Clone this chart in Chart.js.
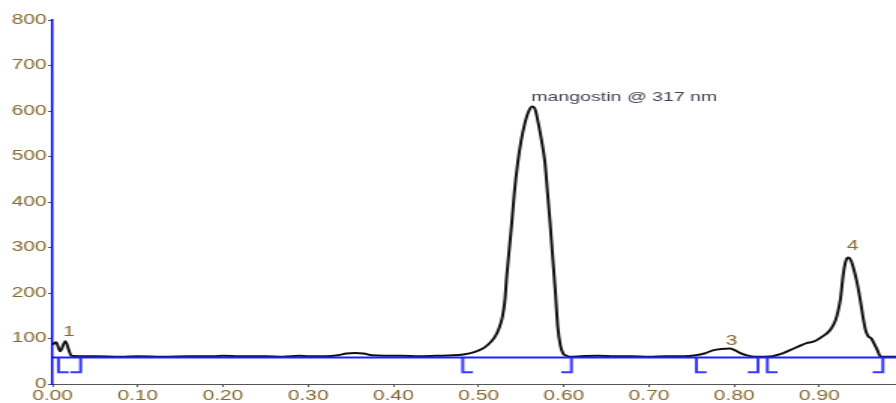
<!DOCTYPE html>
<html>
<head>
<meta charset="utf-8">
<script src="https://cdn.jsdelivr.net/npm/chart.js@4/dist/chart.umd.min.js"></script>
<style>
  html, body { margin: 0; padding: 0; background: #fff; overflow: hidden; }
  #chart { display: block; width: 597px; height: 403px; transform: scaleX(1.50084); transform-origin: 0 0; }
</style>
</head>
<body>
<canvas id="chart" width="597" height="403"></canvas>
<script>
// retention time (min) and absorbance
var timeVals = [0.000, 0.004, 0.009, 0.015, 0.019, 0.022, 0.030, 0.050, 0.080, 0.100,
  0.130, 0.160, 0.190, 0.200, 0.220, 0.250, 0.270, 0.290, 0.300, 0.320,
  0.335, 0.345, 0.355, 0.365, 0.375, 0.390, 0.410, 0.430, 0.450, 0.470,
  0.482, 0.495, 0.505, 0.512, 0.519, 0.524, 0.528, 0.531, 0.533, 0.536,
  0.539, 0.542, 0.546, 0.550, 0.5545, 0.559, 0.563, 0.5665, 0.5697, 0.574,
  0.578, 0.581, 0.584, 0.587, 0.590, 0.593, 0.596, 0.599, 0.603, 0.607,
  0.620, 0.640, 0.660, 0.680, 0.700, 0.720, 0.740, 0.755, 0.765, 0.775,
  0.785, 0.795, 0.800, 0.806, 0.815, 0.825, 0.835, 0.845, 0.855, 0.865,
  0.875, 0.885, 0.893, 0.900, 0.908, 0.914, 0.919, 0.922, 0.925, 0.928,
  0.931, 0.934, 0.937, 0.940, 0.944, 0.948, 0.951, 0.954, 0.957, 0.961,
  0.964, 0.968, 0.971, 0.975, 0.990];
var signal = [86, 92, 72, 94, 75, 62, 61, 61, 60, 61,
  60, 61, 61, 62, 61, 61, 60, 62, 61, 61,
  63, 67, 68, 67, 63, 62, 62, 61, 62, 63,
  65, 70, 78, 88, 103, 122, 147, 185, 235, 295,
  354, 420, 486, 535, 574, 600, 610, 603, 577, 535,
  486, 420, 354, 280, 207, 125, 85, 68, 62, 60,
  61, 62, 61, 61, 60, 61, 61, 63, 67, 74,
  77, 78, 75, 69, 63, 60, 60, 61, 66, 74,
  82, 90, 93, 100, 110, 122, 140, 160, 190, 240,
  270, 278, 272, 255, 225, 185, 150, 120, 106, 100,
  90, 75, 62, 60, 60];

var baselineLevel = 58;
var bracketBottom = 26;
var peakStart = [0.007, 0.4815, 0.7557, 0.839];
var peakEnd = [0.033, 0.609, 0.828, 0.9746];

var peakLabels = ["1", "mangostin @ 317 nm", "3", "4"];
var peakLabelX = [0.019, 0.562, 0.797, 0.939];
var peakLabelY = [115, 630, 95, 304];

var xTicks = [0, 0.1, 0.2, 0.3, 0.4, 0.5, 0.6, 0.7, 0.8, 0.9];
var xMax = 0.99;
var yMax = 800;

var labelColor = "#86682e";

var tracePts = timeVals.map(function(t, i) { return {x: t, y: signal[i]}; });

// integration marks: "[" at start and "]" at end of each peak
var bracketPts = [];
for (var i = 0; i < peakStart.length; i++) {
  var foot = Math.min(0.012, (peakEnd[i] - peakStart[i]) / 2);
  bracketPts.push({x: peakStart[i], y: baselineLevel});
  bracketPts.push({x: peakStart[i], y: bracketBottom});
  bracketPts.push({x: peakStart[i] + foot, y: bracketBottom});
  bracketPts.push({x: peakStart[i] + foot, y: null});
  bracketPts.push({x: peakEnd[i] - foot, y: bracketBottom});
  bracketPts.push({x: peakEnd[i], y: bracketBottom});
  bracketPts.push({x: peakEnd[i], y: baselineLevel});
  bracketPts.push({x: peakEnd[i], y: null});
}

var peakText = {
  id: 'peakText',
  afterDatasetsDraw: function(chart) {
    var ctx = chart.ctx;
    var sx = chart.scales.x, sy = chart.scales.y;
    ctx.save();
    ctx.textBaseline = 'middle';
    for (var i = 0; i < peakLabels.length; i++) {
      var long = peakLabels[i].length > 2;
      ctx.font = (long ? '13px' : '14px') + ' "Liberation Sans", Arial, sans-serif';
      ctx.fillStyle = long ? '#4a3d52' : labelColor;
      ctx.textAlign = long ? 'left' : 'center';
      ctx.fillText(peakLabels[i], sx.getPixelForValue(peakLabelX[i]), sy.getPixelForValue(peakLabelY[i]));
    }
    ctx.restore();
  }
};

var tickFont = { family: '"Liberation Sans", Arial, sans-serif', size: 14 };

new Chart(document.getElementById('chart').getContext('2d'), {
  type: 'line',
  data: {
    datasets: [
      {
        data: [{x: 0, y: baselineLevel}, {x: xMax, y: baselineLevel}],
        borderColor: '#2020ff',
        borderWidth: 2,
        pointRadius: 0
      },
      {
        data: bracketPts,
        borderColor: '#3a3aff',
        borderWidth: 2,
        pointRadius: 0,
        spanGaps: false
      },
      {
        data: tracePts,
        borderColor: '#111111',
        borderWidth: 2,
        pointRadius: 0,
        cubicInterpolationMode: 'monotone'
      }
    ]
  },
  options: {
    responsive: false,
    animation: false,
    devicePixelRatio: 1,
    layout: { padding: { top: 20, left: 0, right: 0, bottom: 0 } },
    plugins: { legend: { display: false }, tooltip: { enabled: false } },
    scales: {
      x: {
        type: 'linear',
        min: 0,
        max: xMax,
        afterBuildTicks: function(s) { s.ticks = xTicks.map(function(v) { return {value: v}; }); },
        afterFit: function(s) { s.height = 19; },
        ticks: {
          autoSkip: false,
          maxRotation: 0,
          padding: 1,
          color: labelColor,
          font: tickFont,
          callback: function(v) { return Number(v).toFixed(2); }
        },
        grid: { drawOnChartArea: false, tickLength: 3, color: '#555' },
        border: { color: '#555', width: 1 }
      },
      y: {
        min: 0,
        max: yMax,
        afterFit: function(s) { s.width = 35; },
        ticks: { stepSize: 100, padding: 1, color: labelColor, font: tickFont },
        grid: { drawOnChartArea: false, tickLength: 3, color: '#555' },
        border: { color: '#0000ff', width: 1.5 }
      }
    }
  },
  plugins: [peakText]
});
</script>
</body>
</html>
